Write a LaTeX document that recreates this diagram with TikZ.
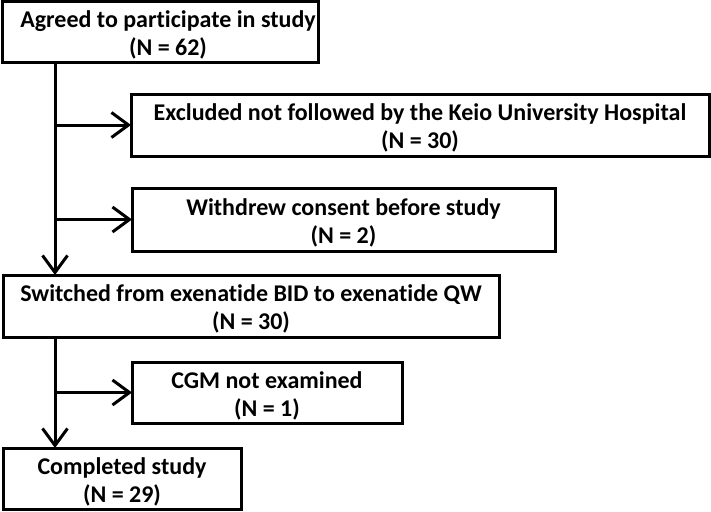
\documentclass[tikz,border=0pt]{standalone}
\usepackage{fontspec}
\setmainfont{Carlito}[Ligatures=NoCommon]
\usetikzlibrary{arrows.meta}

\begin{document}
\begin{tikzpicture}[x=1pt, y=-1pt,
    box/.style={draw, line width=3pt, inner sep=0pt, outer sep=0pt, anchor=north west},
    txt/.style={align=center, inner sep=0pt, yshift=-3pt, font=\bfseries\fontsize{24}{28}\selectfont},
    flow/.style={line width=3pt, -{Straight Barb[length=17pt, width=25pt, line width=3pt]}}]
    \useasboundingbox (0,0) rectangle (711,511);

    \node [box, minimum width=316pt, minimum height=60pt,
        label={[txt, xshift=8pt]center:{Agreed to participate in study\\(N = 62)}}] (agreed) at (2,2) {};
    \node [box, minimum width=578pt, minimum height=62pt,
        label={[txt]center:{Excluded not followed by the Keio University Hospital\\(N = 30)}}] (excluded) at (131,94) {};
    \node [box, minimum width=423pt, minimum height=63pt,
        label={[txt]center:{Withdrew consent before study\\(N = 2)}}] (withdrew) at (132,188) {};
    \node [box, minimum width=496pt, minimum height=62pt,
        label={[txt]center:{Switched from exenatide BID to exenatide QW\\(N = 30)}}] (switched) at (3,275) {};
    \node [box, minimum width=270pt, minimum height=61pt,
        label={[txt]center:{CGM not examined\\(N = 1)}}] (cgm) at (132,362) {};
    \node [box, minimum width=238pt, minimum height=61pt,
        label={[txt]center:{Completed study\\(N = 29)}}] (completed) at (3,448) {};

    \coordinate (trunk) at (55,0);

    \draw [flow] (trunk |- agreed.south) -- (trunk |- switched.north);
    \draw [flow] (trunk |- excluded.west) -- (excluded.west);
    \draw [flow] (trunk |- withdrew.west) -- (withdrew.west);

    \draw [flow] (trunk |- switched.south) -- (trunk |- completed.north);
    \draw [flow] (trunk |- cgm.west) -- (cgm.west);

\end{tikzpicture}
\end{document}
